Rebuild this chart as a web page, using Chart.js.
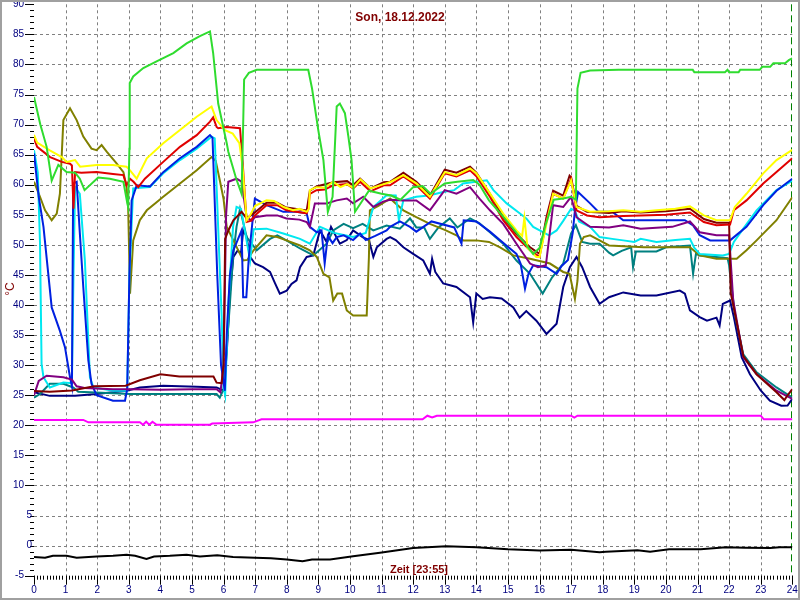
<!DOCTYPE html>
<html>
<head>
<meta charset="utf-8">
<title>Son, 18.12.2022</title>
<script src="https://cdn.jsdelivr.net/npm/chart.js@4.4.0/dist/chart.umd.min.js"></script>
<style>
  html, body { margin: 0; padding: 0; background: #fff; }
  #wrap { width: 800px; height: 600px; position: relative; }
</style>
</head>
<body>
<div id="wrap"><canvas id="chart" width="800" height="600"></canvas></div>
<script>
// ── Achsen ──
const xMin = 0, xMax = 24;
const yMin = -5, yMax = 90;
const xTicks = [0,1,2,3,4,5,6,7,8,9,10,11,12,13,14,15,16,17,18,19,20,21,22,23,24];
const yTicks = [-5,0,5,10,15,20,25,30,35,40,45,50,55,60,65,70,75,80,85,90];
const xMinorStep = 0.1;
const yMinorStep = 1;
const title = 'Son, 18.12.2022';
const xTitle = 'Zeit [23:55]';
const yTitle = '°C';
const markerTime = 24;

// ── Messreihen [Stunde, °C] ──
const green = [[0,74.6],[0.2,70],[0.4,66.3],[0.56,60.7],[0.77,63.3],[1.03,62.1],[1.3,62],[1.45,61],[1.6,59.1],[2.03,61.2],[2.4,61],[2.83,60.5],[2.95,57],[2.98,56.3],[3.02,66],[3.03,76.9],[3.14,78],[3.46,79.4],[3.88,80.5],[4.41,81.9],[4.83,83.5],[5.25,84.7],[5.57,85.5],[5.67,81.9],[5.83,73.5],[6.1,66.9],[6.15,65.5],[6.4,61],[6.57,58.5],[6.62,70],[6.65,77.5],[6.8,78.6],[7.05,79.1],[8.68,79.1],[8.8,76],[9.0,69],[9.16,64.1],[9.3,55.5],[9.45,58],[9.58,73],[9.68,73.5],[9.84,71.9],[9.95,68],[10.05,64.1],[10.16,55.5],[10.35,57],[10.6,59],[11.0,58.5],[11.3,58.2],[11.6,57.5],[12.0,59.6],[12.3,59.8],[12.55,58.5],[13.0,60.2],[13.4,60.5],[13.9,60.8],[14.1,60],[14.4,57.4],[14.8,55],[15.2,52.5],[15.5,50.5],[15.8,48.5],[16.0,49.5],[16.2,53.5],[16.45,57.5],[16.75,57.7],[17.0,58],[17.15,57.5],[17.2,76],[17.3,78.6],[17.6,79],[18.5,79.1],[19.5,79.1],[20.85,79.1],[20.9,78.7],[21.87,78.7],[21.95,79.1],[22.0,78.7],[22.3,78.7],[22.35,79.1],[22.97,79.1],[23.05,79.6],[23.3,79.6],[23.4,80.2],[23.77,80.2],[23.9,80.75],[24,81]];
const yellow = [[0,68.3],[0.1,67],[0.5,65.7],[0.88,64.6],[1.03,63.8],[1.3,64.1],[1.46,63],[1.98,63.3],[2.5,63.3],[2.93,63],[3.04,62.4],[3.25,61],[3.57,64.4],[4.09,66.9],[4.62,69.1],[5.15,71.3],[5.62,73],[5.78,70.75],[6.03,69.1],[6.29,68.5],[6.5,66.9],[6.6,63],[6.73,54.1],[6.85,55],[7.0,56.5],[7.36,57.4],[7.6,57.3],[7.9,56.3],[8.2,55.75],[8.4,56],[8.63,55.5],[8.7,56],[8.73,59.1],[8.94,59.6],[9.2,59.5],[9.47,60.5],[9.7,59.6],[9.91,60.1],[10.1,59.5],[10.33,60.9],[10.65,59.4],[11.07,60.1],[11.3,60.5],[11.69,61.6],[12.11,60.2],[12.53,58],[13.0,62.1],[13.37,61.6],[13.8,62.7],[14.0,61.9],[14.3,59.6],[14.85,55.2],[15.27,52.4],[15.45,51.5],[15.52,54.5],[15.62,49.5],[15.9,48],[16.0,48],[16.22,53.5],[16.43,58.5],[16.75,57.7],[17.0,60.75],[17.17,56.3],[17.6,55.5],[18.2,55.6],[18.65,55.75],[19.2,55.5],[19.7,55.75],[20.3,56],[20.76,56.4],[21.2,54.9],[21.6,54.1],[22.03,54.1],[22.18,56.3],[22.55,58.5],[23.08,61.9],[23.5,64.1],[24,65.8]];
const red = [[0,67.7],[0.1,66.3],[0.51,64.6],[0.88,63.8],[1.14,63.5],[1.2,63.2],[1.25,56],[1.3,62.1],[1.5,62],[1.98,62.1],[2.5,61.8],[2.83,61.6],[2.93,59.9],[3.04,61],[3.15,60.5],[3.3,59.6],[3.51,61],[4.09,63.8],[4.62,66.3],[5.15,68.25],[5.57,70.5],[5.67,71.2],[5.78,69.6],[5.83,69.4],[6.1,69.6],[6.52,69.4],[6.6,64],[6.73,53.8],[6.85,54],[6.99,54.9],[7.36,56.6],[7.7,56.6],[7.99,55.75],[8.3,55.5],[8.63,55.25],[8.68,56],[8.73,58.5],[8.94,59.1],[9.2,59.2],[9.47,59.9],[9.91,60.1],[10.1,59.4],[10.32,60.5],[10.65,58.9],[11.07,59.9],[11.27,59.9],[11.69,61.4],[12.1,59.9],[12.53,57.7],[13.0,61.9],[13.37,61.4],[13.8,62.4],[14.0,61.4],[14.43,58],[14.85,54.1],[15.27,51.3],[15.7,49.1],[16.0,48],[16.22,54.1],[16.43,58.5],[16.75,57.7],[17.0,61],[17.17,55.75],[17.5,54.9],[17.9,54.6],[18.65,54.8],[19.2,54.9],[20.0,55],[20.76,55.4],[21.2,53.8],[21.6,53.25],[22.03,53.4],[22.15,55.75],[22.55,57.4],[23.08,60.2],[23.5,62.1],[24,64.4]];
const maroon = [[0,25.7],[0.5,25.6],[1.2,25.8],[1.9,26.5],[2.9,26.6],[3.35,27.5],[4.0,28.5],[4.6,28.1],[5.68,28.1],[5.78,27.1],[5.94,27],[6.0,30.2],[6.05,51],[6.15,52.4],[6.31,54.1],[6.57,55.5],[6.73,54.4],[6.99,55.4],[7.36,57],[7.7,57],[7.99,56.2],[8.63,55.7],[8.73,59],[8.94,59.7],[9.47,60.4],[9.91,60.6],[10.1,59.9],[10.32,61],[10.65,59.4],[11.07,60.4],[11.27,60.5],[11.69,62],[12.1,60.5],[12.53,58.2],[13.0,62.5],[13.37,62],[13.8,63],[14.0,62],[14.43,58.5],[14.85,54.6],[15.27,51.8],[15.7,49.6],[16.0,48.5],[16.22,54.6],[16.43,59],[16.75,58.2],[16.95,61.5],[17.0,61.2],[17.17,56.5],[17.5,55.5],[18.2,55.3],[18.65,55.6],[19.2,55.4],[20.0,55.6],[20.76,56],[21.2,54.3],[21.6,53.7],[22.0,53.7],[22.05,42],[22.13,40],[22.45,31.5],[22.87,28.5],[23.5,25.5],[23.75,24.2],[23.85,25],[24,26]];
const purple = [[0,25],[0.15,27.4],[0.4,28.25],[0.93,28],[1.2,27.6],[1.35,26.5],[1.6,26.2],[2.5,26],[3.04,26],[4.0,25.9],[5.0,26],[5.78,26],[5.9,25.5],[6.0,30],[6.08,55],[6.15,60.5],[6.41,61],[6.57,60.5],[6.73,54.6],[6.9,54],[6.99,54.6],[7.36,54.9],[7.7,54.9],[7.99,54.4],[8.4,54.2],[8.63,53.8],[8.73,53],[8.89,56.9],[9.26,56.9],[9.58,57.4],[9.9,57.7],[10.1,56.9],[10.42,58],[10.74,56.3],[11.05,57.2],[11.27,57.5],[11.69,57.4],[12.1,57.4],[12.53,55.75],[13.0,59.1],[13.37,58.5],[13.8,59.6],[14.1,57.7],[14.43,55.75],[14.85,53.5],[15.27,50.2],[15.7,46.9],[15.95,46.3],[16.2,46.6],[16.43,56.6],[16.75,56.3],[17.0,58],[17.17,54.6],[17.6,53],[18.2,52.9],[18.65,53.25],[19.2,52.7],[20.2,53],[20.76,53.9],[21.07,52.1],[21.6,51.6],[22.0,51.6],[22.13,40.75],[22.45,31.3],[22.87,28.5],[23.5,25.75],[24,24.4]];
const blue = [[0,65.2],[0.15,58],[0.3,53],[0.56,39.6],[0.82,35.7],[0.98,33],[1.14,28],[1.2,26.5],[1.24,60.2],[1.35,60.5],[1.45,52],[1.56,43],[1.72,30.8],[1.82,26.9],[1.98,25],[2.5,24.1],[2.88,24.1],[2.95,26],[3.02,45],[3.09,57.4],[3.25,59.9],[3.67,59.7],[4.09,62.1],[4.62,64.4],[5.15,66.3],[5.57,68.25],[5.65,67.8],[5.8,45],[5.92,30],[6.04,25.75],[6.1,35],[6.2,45],[6.31,49.1],[6.57,52.4],[6.62,41.3],[6.72,41.3],[6.8,48],[6.99,57.7],[7.36,56.6],[7.89,55.5],[8.3,55.5],[8.63,55.25],[8.73,53],[8.95,52.1],[9.1,52.4],[9.2,46.9],[9.3,51.5],[9.45,50.3],[9.58,51.3],[9.8,51.6],[10.1,50.8],[10.32,51.9],[10.5,50.8],[10.8,51.5],[11.16,52.4],[11.27,53],[11.58,53.9],[11.9,53],[12.1,52.2],[12.58,53.9],[13.3,52.9],[13.53,50.2],[13.6,54.1],[14.0,53.9],[14.43,52.2],[14.95,49.9],[15.27,48.5],[15.4,46.9],[15.54,42.7],[15.65,45.2],[15.8,46.6],[16.22,46.3],[16.54,45.2],[16.7,46.5],[16.9,47.5],[17.05,52],[17.12,55.75],[17.22,58.8],[17.6,56.9],[17.86,55.5],[18.3,55.5],[18.65,54.1],[20.6,54.1],[20.86,53.25],[21.07,51.6],[21.4,50.75],[22.03,50.75],[22.2,51.5],[22.55,53],[23.08,56.6],[23.5,59],[24,61]];
const cyan = [[0,65.75],[0.12,62],[0.19,50.3],[0.24,30.2],[0.3,28],[0.5,26.3],[0.93,27.1],[1.2,27],[1.25,45],[1.3,59.6],[1.45,58.5],[1.61,47.4],[1.77,28],[1.88,26.3],[2.51,25.75],[2.95,25.75],[3.02,45],[3.14,59.4],[3.67,59.6],[4.09,61.9],[4.62,64.1],[5.15,66],[5.62,68],[5.72,67.7],[5.85,50],[5.94,38],[6.0,26.3],[6.05,25],[6.15,40],[6.3,53],[6.41,56.3],[6.55,56],[6.84,47.4],[6.95,52.6],[7.36,52.7],[7.89,51.9],[8.42,51],[8.73,50.2],[9.05,53],[9.5,52],[10.1,51.3],[10.5,52],[10.74,56.3],[11.16,58.25],[11.45,58.2],[11.55,54.1],[11.69,57.4],[12.1,58],[12.5,58.2],[12.95,58.8],[13.3,59.1],[13.58,60.2],[14.33,60.75],[14.54,59.1],[14.96,56.9],[15.37,55.25],[15.58,54.4],[15.8,53],[16.3,51.6],[16.54,52.4],[16.75,54],[17.0,56],[17.12,55.7],[17.25,53.9],[17.6,53],[17.9,51.3],[18.3,51],[18.65,50.75],[19.0,50.5],[19.2,51],[19.7,50.5],[20.3,50.8],[20.76,51],[20.9,49.5],[21.07,48.5],[21.8,48.25],[22.0,48.5],[22.15,50.5],[22.45,52.7],[22.87,55.75],[23.5,59.1],[24,60.7]];
const olive = [[0,60.5],[0.19,58],[0.35,55.75],[0.56,54.1],[0.72,55.2],[0.82,58.5],[0.93,70.75],[1.14,72.7],[1.35,70.75],[1.56,68],[1.82,66],[1.98,65.75],[2.14,66.6],[2.3,65.5],[2.62,63.5],[2.83,62.1],[2.93,59.6],[2.98,56.3],[3.04,41.9],[3.14,50.75],[3.35,54.1],[3.57,55.75],[3.88,57.1],[4.09,58],[4.62,60.2],[5.15,62.4],[5.62,64.6],[5.75,64],[5.89,60.5],[6.0,57.6],[6.1,53],[6.31,50.75],[6.62,47.4],[6.75,47.5],[6.95,49.1],[7.36,51.6],[7.7,51.3],[7.99,50.75],[8.42,49.9],[8.73,49.1],[8.95,48],[9.16,45.2],[9.35,44.6],[9.47,40.75],[9.6,41.9],[9.75,41.9],[9.9,39.1],[10.1,38.25],[10.53,38.25],[10.6,48],[10.63,55.75],[10.9,56.5],[11.27,57.7],[11.69,55.75],[12.1,54.6],[12.53,53.5],[13.0,52.5],[13.37,51.6],[13.58,50.75],[14.0,50.75],[14.4,50.5],[14.75,49.6],[15.17,48.25],[15.7,47.7],[16.33,46.9],[16.75,45.5],[16.95,45.2],[17.08,42],[17.12,41],[17.2,44],[17.28,50.2],[17.4,51.3],[17.6,51.6],[17.9,50.75],[18.2,49.9],[19.3,49.6],[20.76,49.6],[21.07,48.25],[21.6,47.7],[22.24,47.7],[22.55,49.1],[22.87,50.75],[23.5,54.1],[24,57.9]];
const teal = [[0,24.6],[0.19,25.2],[0.5,26.9],[0.93,26.9],[1.24,26.3],[1.4,25.6],[1.77,25.5],[3.04,25.2],[4.5,25.2],[5.78,25.2],[5.88,24.6],[6.0,26],[6.1,33],[6.2,40.2],[6.3,48],[6.41,53],[6.52,56],[6.73,51.3],[7.05,49.1],[7.47,51],[7.7,51.6],[8.0,50.7],[8.42,49.4],[8.84,48.25],[9.0,49],[9.26,50.2],[9.47,52.4],[9.8,53.5],[10.1,52.8],[10.4,53.5],[10.74,52.4],[11.16,53.2],[11.58,52.7],[11.9,54.4],[12.1,52.9],[12.35,52.9],[12.53,51],[12.8,52.9],[13.16,54.4],[13.4,52.9],[13.8,54.4],[14.1,53.6],[14.43,52.1],[14.85,50.2],[15.27,47.4],[15.7,45.2],[16.1,41.9],[16.4,44.6],[16.75,46.9],[17.0,51.9],[17.15,53.3],[17.35,50.5],[17.6,50.2],[17.9,50.2],[18.2,48.7],[18.33,48.25],[18.6,49],[18.9,49.6],[18.96,46.3],[19.05,48.9],[19.7,48.9],[20.0,49.6],[20.76,49.9],[20.86,45.2],[20.95,48.5],[21.07,48.25],[21.6,48],[21.95,47.8],[22.0,46.6],[22.05,44.1],[22.2,38],[22.45,31.8],[22.87,28.8],[23.5,26.3],[24,24.6]];
const navy = [[0,25.5],[0.5,24.9],[1.3,24.9],[1.98,25.2],[2.93,25.75],[3.35,26.3],[4.09,26.6],[5.15,26.4],[5.78,26.3],[6.0,25.75],[6.1,32],[6.2,42],[6.31,48],[6.45,49.1],[6.55,48.5],[6.62,52.4],[6.72,51.5],[6.84,48],[6.99,46.9],[7.25,46.3],[7.47,45.5],[7.63,43.6],[7.78,41.9],[8.0,42.4],[8.15,43.5],[8.31,44.1],[8.42,46.3],[8.63,48],[8.84,48.25],[9.05,52.4],[9.26,50.5],[9.4,53],[9.68,50.2],[9.9,50.8],[10.1,52.4],[10.4,51.3],[10.6,50.8],[10.74,48],[10.85,49.6],[11.16,51],[11.27,51.3],[11.45,50.8],[11.69,49.6],[12.0,48.5],[12.32,47.4],[12.53,45.2],[12.6,47.7],[12.7,45.5],[12.95,43.6],[13.37,43],[13.8,41.3],[13.9,37.1],[14.0,41.9],[14.2,41],[14.43,41.3],[14.8,41.1],[15.17,39.6],[15.37,37.9],[15.58,39],[15.9,37.4],[16.22,35.2],[16.54,36.9],[16.75,43],[16.96,46.3],[17.17,48],[17.35,46.3],[17.6,43],[17.9,40.2],[18.2,41.3],[18.65,42.1],[19.2,41.6],[19.7,41.6],[20.44,42.4],[20.6,41.9],[20.76,39.1],[21.07,38],[21.3,37.4],[21.6,37.9],[21.7,36.6],[21.8,40.2],[22.03,40.75],[22.15,38],[22.4,31.3],[22.66,28.5],[23.0,25.8],[23.29,24.1],[23.65,23.25],[23.85,23.3],[24,24.4]];
const magenta = [[0,20.9],[1.56,20.9],[1.72,20.5],[3.35,20.5],[3.45,20.1],[3.55,20.6],[3.65,20.1],[3.75,20.6],[3.88,20.1],[5.57,20.1],[5.64,20.3],[6.94,20.5],[7.2,21.0],[12.3,21.0],[12.45,21.6],[12.6,21.3],[12.75,21.6],[17.0,21.6],[17.1,21.3],[17.2,21.6],[23.0,21.6],[23.1,21.0],[24,21.0]];
const black = [[0,-1.9],[0.35,-2.0],[0.6,-1.7],[1.03,-1.7],[1.35,-2.0],[1.98,-1.8],[2.5,-1.7],[2.93,-1.5],[3.2,-1.7],[3.56,-2.2],[3.8,-1.8],[4.3,-1.7],[4.83,-1.5],[5.25,-1.8],[5.8,-1.6],[6.3,-1.9],[7.0,-2.0],[7.5,-2.1],[8.0,-2.3],[8.5,-2.6],[8.8,-2.3],[9.37,-2.3],[10.1,-1.75],[10.95,-1.2],[12.0,-0.4],[13.05,-0.1],[14.0,-0.25],[15.0,-0.6],[16.0,-0.8],[17.0,-0.7],[17.9,-1.1],[18.1,-1.0],[19.1,-0.75],[19.5,-1.0],[20.1,-0.6],[21.1,-0.6],[21.9,-0.25],[22.5,-0.35],[23.3,-0.4],[23.6,-0.25],[24,-0.25]];

// zuerst genannte Reihe liegt oben
const series = [
  { data: green,   color: '#2fdc2f' },
  { data: yellow,  color: '#ffff00' },
  { data: red,     color: '#e00000' },
  { data: maroon,  color: '#800000' },
  { data: purple,  color: '#800080' },
  { data: blue,    color: '#0020e0' },
  { data: cyan,    color: '#00e8f0' },
  { data: olive,   color: '#808000' },
  { data: teal,    color: '#008080' },
  { data: navy,    color: '#000080' },
  { data: magenta, color: '#ff00ff' },
  { data: black,   color: '#000000' },
];

const LABEL_FONT = '10px "Liberation Sans", Arial, sans-serif';
const TITLE_FONT = 'bold 12px "Liberation Sans", Arial, sans-serif';

// Gitter, Skalen und Beschriftungen im Stil des Originals
const axesPlugin = {
  id: 'axes',
  beforeDatasetsDraw(chart) {
    const { ctx, chartArea: a, scales: { x, y } } = chart;
    ctx.save();
    ctx.strokeStyle = '#808080';
    ctx.lineWidth = 1;
    ctx.setLineDash([3, 3]);
    ctx.beginPath();
    for (const t of xTicks) {
      if (t <= xMin || t >= xMax) continue;
      const px = Math.round(x.getPixelForValue(t)) + 0.5;
      ctx.moveTo(px, a.top);
      ctx.lineTo(px, a.bottom);
    }
    for (const t of yTicks) {
      if (t <= yMin || t >= yMax) continue;
      const py = Math.round(y.getPixelForValue(t)) + 0.5;
      ctx.moveTo(a.left, py);
      ctx.lineTo(a.right, py);
    }
    ctx.stroke();

    // Zeitmarke
    ctx.strokeStyle = '#008000';
    ctx.setLineDash([7, 4]);
    ctx.beginPath();
    const mx = Math.round(x.getPixelForValue(markerTime)) - 0.5;
    ctx.moveTo(mx, a.top);
    ctx.lineTo(mx, a.bottom);
    ctx.stroke();
    ctx.restore();
  },
  afterDraw(chart) {
    const { ctx, chartArea: a, scales: { x, y } } = chart;
    ctx.save();
    ctx.setLineDash([]);
    ctx.strokeStyle = '#000';
    ctx.lineWidth = 1;
    ctx.beginPath();
    // kleine Striche
    for (let v = yMin; v <= yMax + 1e-9; v += yMinorStep) {
      const py = Math.round(y.getPixelForValue(v)) + 0.5;
      ctx.moveTo(a.left - 4, py);
      ctx.lineTo(a.left, py);
    }
    for (let i = 0; i <= Math.round((xMax - xMin) / xMinorStep); i++) {
      const px = Math.round(x.getPixelForValue(xMin + i * xMinorStep)) + 0.5;
      ctx.moveTo(px, a.bottom);
      ctx.lineTo(px, a.bottom + 4);
    }
    // große Striche
    for (const t of yTicks) {
      const py = Math.round(y.getPixelForValue(t)) + 0.5;
      const len = String(t).length > 1 ? 9 : 2;
      ctx.moveTo(a.left - len, py);
      ctx.lineTo(a.left, py);
    }
    for (const t of xTicks) {
      const px = Math.round(x.getPixelForValue(t)) + 0.5;
      ctx.moveTo(px, a.bottom);
      ctx.lineTo(px, a.bottom + 9);
    }
    ctx.stroke();

    ctx.fillStyle = '#000080';
    ctx.font = LABEL_FONT;
    ctx.textBaseline = 'middle';
    ctx.textAlign = 'right';
    for (const t of yTicks) {
      const s = String(t);
      const rx = s.length > 1 ? a.left - 10 : a.left - 2;
      ctx.fillText(s, rx, y.getPixelForValue(t));
    }
    ctx.textAlign = 'center';
    for (const t of xTicks) {
      ctx.fillText(String(t), x.getPixelForValue(t), a.bottom + 15);
    }

    // Titel
    ctx.fillStyle = '#800000';
    ctx.font = TITLE_FONT;
    ctx.textBaseline = 'alphabetic';
    ctx.fillText(title, 400, 21);
    ctx.font = 'bold 11px "Liberation Sans", Arial, sans-serif';
    ctx.fillText(xTitle, 419, 573);
    ctx.save();
    ctx.translate(14, 289);
    ctx.rotate(-Math.PI / 2);
    ctx.font = '12px "Liberation Sans", Arial, sans-serif';
    ctx.textBaseline = 'alphabetic';
    ctx.fillText(yTitle, 0, 0);
    ctx.restore();

    // Rahmen
    ctx.strokeStyle = '#a0a0a0';
    ctx.lineWidth = 2;
    ctx.strokeRect(1, 1, 798, 598);
    ctx.restore();
  }
};

new Chart(document.getElementById('chart'), {
  type: 'line',
  data: {
    datasets: series.map((s) => ({
      data: s.data.map(([h, v]) => ({ x: h, y: v })),
      borderColor: s.color,
      backgroundColor: s.color,
      borderWidth: 2,
      pointRadius: 0,
      tension: 0,
      fill: false,
    })),
  },
  options: {
    responsive: false,
    animation: false,
    devicePixelRatio: 1,
    layout: { padding: { left: 34, right: 7.7, top: 4.3, bottom: 24.3 } },
    plugins: { legend: { display: false }, tooltip: { enabled: false } },
    scales: {
      x: { type: 'linear', min: xMin, max: xMax, display: false },
      y: { type: 'linear', min: yMin, max: yMax, display: false },
    },
  },
  plugins: [axesPlugin],
});
</script>
</body>
</html>
